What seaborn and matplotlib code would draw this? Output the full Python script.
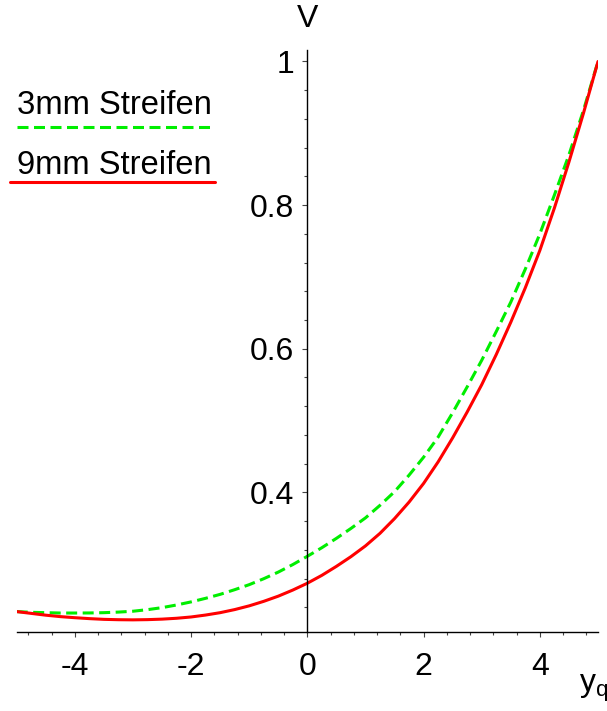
import numpy as np
import pandas as pd
import matplotlib
matplotlib.use("Agg")
import matplotlib.pyplot as plt
from matplotlib.lines import Line2D
from matplotlib.ticker import MultipleLocator, FixedLocator
import seaborn as sns

# ---- data ----
y_q = [-5, -4.75, -4.5, -4.25, -4, -3.75, -3.5, -3.25, -3, -2.75, -2.5, -2.25,
       -2, -1.75, -1.5, -1.25, -1, -0.75, -0.5, -0.25, 0,
       0.25, 0.5, 0.75, 1, 1.25, 1.5, 1.75, 2, 2.25, 2.5, 2.75,
       3, 3.25, 3.5, 3.75, 4, 4.25, 4.5, 4.75, 5]
v_3mm = [0.234, 0.233, 0.2325, 0.232, 0.232, 0.2321, 0.2325, 0.2333, 0.2345, 0.2367, 0.2395, 0.2432,
         0.2475, 0.2525, 0.258, 0.2645, 0.2715, 0.2798, 0.289, 0.2995, 0.311,
         0.323, 0.336, 0.3498, 0.3645, 0.382, 0.401, 0.424, 0.449, 0.477, 0.511, 0.547,
         0.584, 0.624, 0.665, 0.711, 0.760, 0.814, 0.870, 0.932, 1.0]
v_9mm = [0.234, 0.2315, 0.229, 0.227, 0.2255, 0.2242, 0.2232, 0.2227, 0.2225, 0.2228, 0.2235, 0.2247,
         0.2265, 0.2292, 0.2325, 0.2368, 0.242, 0.2483, 0.2555, 0.264, 0.2735,
         0.2845, 0.297, 0.3105, 0.3255, 0.343, 0.3635, 0.3865, 0.4125, 0.4425, 0.476, 0.512,
         0.55, 0.592, 0.637, 0.685, 0.737, 0.796, 0.86, 0.928, 1.0]
series_labels = ["3mm Streifen", "9mm Streifen"]
x_ticks = [-4, -2, 0, 2, 4]
y_ticks = [0.4, 0.6, 0.8, 1.0]
y_tick_labels = ["0.4", "0.6", "0.8", "1"]

df3 = pd.DataFrame({"y_q": y_q, "V": v_3mm})
df9 = pd.DataFrame({"y_q": y_q, "V": v_9mm})

sns.set_style("white")
plt.rcParams["font.family"] = ["Liberation Sans", "DejaVu Sans"]
plt.rcParams["text.color"] = "black"
plt.rcParams["mathtext.fontset"] = "custom"
plt.rcParams["mathtext.rm"] = "Liberation Sans"
plt.rcParams["mathtext.it"] = "Liberation Sans"

W, H = 607, 711
fig = plt.figure(figsize=(W / 100, H / 100), dpi=100)
ax = fig.add_axes([16.7 / W, 1 - 631.7 / H, (598 - 16.7) / W, (631.7 - 50) / H])

green = "#00ee00"
red = "#ff0000"

sns.lineplot(data=df3, x="y_q", y="V", ax=ax, color=green, lw=2.2,
             linestyle=(0, (3.6, 1.8)), sort=False)
sns.lineplot(data=df9, x="y_q", y="V", ax=ax, color=red, lw=2.2, sort=False)

ax.set_xlim(-5, 5)
ax.set_ylim(0.206, 1.016)
ax.set_xlabel("")
ax.set_ylabel("")

for s in ["top", "right"]:
    ax.spines[s].set_visible(False)
ax.spines["left"].set_position(("data", 0))
for s in ["left", "bottom"]:
    ax.spines[s].set_color("black")
    ax.spines[s].set_linewidth(1.0)

ax.xaxis.set_major_locator(FixedLocator(x_ticks))
ax.xaxis.set_minor_locator(MultipleLocator(0.4))
ax.set_xticklabels([str(t) for t in x_ticks])
ax.yaxis.set_major_locator(FixedLocator(y_ticks))
ax.yaxis.set_minor_locator(MultipleLocator(0.04))
ax.set_yticklabels(y_tick_labels)

ax.tick_params(axis="both", which="major", direction="out", length=3.5, width=0.8,
               colors="#444444", labelcolor="black", labelsize=23)
ax.tick_params(axis="both", which="minor", direction="out", length=2, width=0.8,
               colors="#444444")
ax.tick_params(axis="x", which="major", pad=11)
ax.tick_params(axis="y", which="major", pad=6)
ax.tick_params(left=True, bottom=True, which="both")

# axis labels
fig.text(308 / W, 1 - 19 / H, "V", ha="center", va="center", fontsize=23, color="black")
fig.text(579 / W, 1 - 688 / H, r"y$_\mathregular{q}$", ha="left", va="center", fontsize=23,
         color="black")

# legend (Maple style: text above line sample)
fig.text(17 / W, 1 - 105 / H, series_labels[0], ha="left", va="center", fontsize=23.6,
         color="black")
fig.add_artist(Line2D([17 / W, 215 / W], [1 - 126.7 / H] * 2, transform=fig.transFigure,
                      color=green, lw=2.2, linestyle=(0, (3.6, 1.8))))
fig.text(17 / W, 1 - 165 / H, series_labels[1], ha="left", va="center", fontsize=23.6,
         color="black")
fig.add_artist(Line2D([10 / W, 215 / W], [1 - 181.7 / H] * 2, transform=fig.transFigure,
                      color=red, lw=2.2))

fig.savefig("out.png", dpi=100, facecolor="white")
